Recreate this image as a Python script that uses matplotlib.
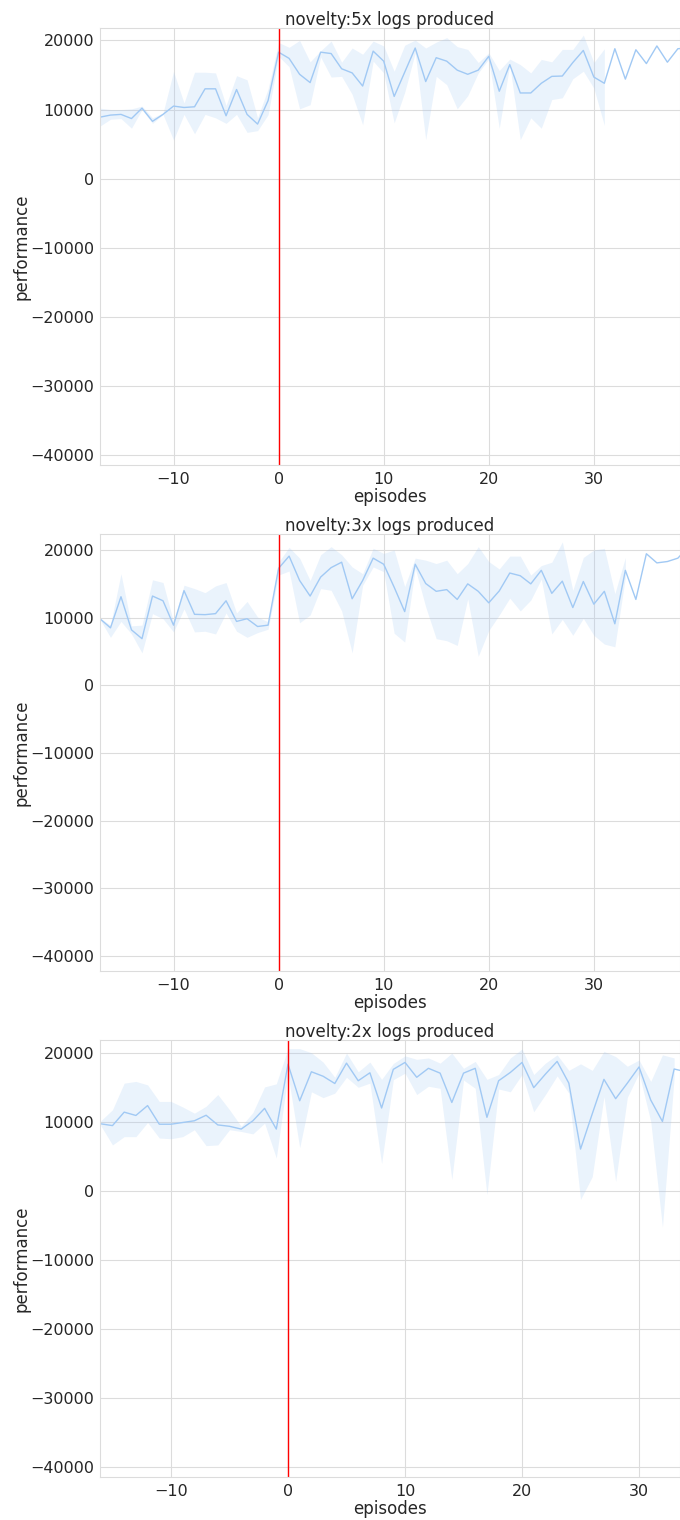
import numpy as np
import matplotlib
matplotlib.use("Agg")
import matplotlib.pyplot as plt
import seaborn as sns


# ----------------- data -----------------
# novelty 5x : episodes -17 .. 39, band only up to episode 31
ep5 = np.arange(-17, 40)
mean5 = [8900, 9200, 9300, 8700, 10200, 8300, 9300, 10500, 10300, 10400, 13000, 13000,
         9100, 12900, 9300, 7900, 11300,
         18300, 17400, 15100, 13900, 18300, 18100, 15900, 15300, 13400, 18450, 17000,
         11900, 15400, 18900, 14050, 17500, 17000, 15700, 15100, 15700, 17700,
         12650, 16500, 12400, 12400, 13800, 14800, 14850, 16800, 18550, 14700, 13800,
         18800, 14400, 18650, 16650, 19200, 16850, 18800, 18900]
upper5 = [10200, 10000, 10000, 10100, 10500, 8800, 9500, 15500, 10950, 15400, 15400, 15300,
          10600, 14900, 14300, 8800, 13000,
          19700, 19000, 20000, 16900, 18500, 19900, 16850, 18900, 18000, 19900, 19200,
          15550, 19300, 20050, 18900, 19750, 20400, 19100, 18700, 16800, 18200,
          15650, 17300, 16500, 15300, 17250, 16900, 18700, 18700, 20770, 16800, 18800]
lower5 = [7600, 8600, 8700, 7300, 10000, 8000, 9300, 5600, 9300, 6500, 9300, 8800,
          8000, 9300, 6700, 6950, 9260,
          17700, 16200, 10100, 10700, 17600, 14700, 14800, 12200, 7800, 17000, 15300,
          8070, 12500, 18200, 5650, 14800, 13600, 10100, 12000, 15300, 17300,
          7300, 16500, 5650, 8800, 7300, 11450, 11700, 14450, 15550, 13100, 7700]

# novelty 3x : episodes -17 .. 39, band only up to episode 33
ep3 = np.arange(-17, 40)
mean3 = [9850, 8500, 13100, 8200, 6900, 13200, 12500, 8900, 14000, 10500, 10450, 10600,
         12500, 9450, 9850, 8700, 8900,
         17300, 19100, 15500, 13200, 16000, 17400, 18200, 12800, 15500, 18800, 17900, 14500, 10900,
         17900, 15050, 13900, 14150, 12700, 15000, 13900, 12200, 13960, 16600, 16200, 15000,
         17000, 13600, 15400,
         11500, 15350, 12000, 13900, 9100, 17000, 12700, 19450, 18100, 18300, 18800, 20500]
upper3 = [9950, 8900, 16500, 8800, 8900, 15600, 15200, 9400, 14800, 14300, 13700, 14700,
          15200, 10700, 12400, 10100, 9400,
          18200, 20400, 18800, 15500, 19300, 20500, 19300, 17500, 16500, 20250, 19500, 20000, 14600,
          18800, 18500, 18000, 18500, 16500, 18000, 20500, 18300, 17200, 19100, 19100, 16300,
          17700, 18200, 21200,
          14050, 18900, 20000, 20250, 13550, 18900]
lower3 = [9750, 7100, 9450, 7600, 4800, 10600, 9850, 7900, 11300, 7900, 8000, 7600,
          10700, 8000, 7100, 7800, 8300,
          16300, 16900, 9250, 10400, 14300, 14050, 11000, 4800, 14800, 17500, 16800, 7700, 6400,
          17300, 11600, 6900, 6600, 5900, 12800, 4300, 8100, 10400, 12900, 11000, 12600,
          15700, 7600, 9750,
          7400, 9900, 7400, 6100, 5700, 16000]

# novelty 2x : episodes -16 .. 34, band only up to episode 33
ep2 = np.arange(-16, 35)
mean2 = [9760, 9500, 11450, 10970, 12400, 9700, 9700, 9950, 10200, 11000, 9600, 9400,
         9000, 10200, 12000, 9000,
         18400, 13100, 17300, 16650, 15600, 18550, 16000, 17150, 12050, 17650, 18650,
         16500, 17800, 17100, 12850, 17100, 17800, 10700, 16000, 17200, 18650, 15000,
         16960, 18800, 15650, 6100, 11200, 16200, 13400, 15650, 18000, 13200, 10100, 17700, 17300]
upper2 = [10200, 11800, 15650, 15900, 15400, 13000, 13000, 12200, 11300, 12300, 14000, 11800,
          9400, 11400, 15100, 15550,
          20650, 20650, 20050, 18700, 16500, 20000, 17300, 18700, 16200, 18500, 19600,
          19100, 19300, 18550, 20000, 17800, 18800, 16200, 16900, 19300, 20600, 16900,
          18550, 19750, 17500, 18450, 17500, 20250, 19500, 18100, 19000, 15900, 19750, 19300]
lower2 = [9500, 6700, 7900, 7900, 9950, 7700, 7600, 7900, 8900, 6600, 6700, 8900,
          8650, 8300, 9850, 4800,
          16900, 6300, 14400, 13550, 14200, 16500, 15050, 15650, 4000, 16150, 17100,
          14000, 15200, 14900, 1700, 16100, 14900, -500, 14800, 14400, 16900, 11500,
          14000, 16700, 14200, -1200, 2100, 13700, 1400, 13600, 17100, 10100, -5200, 16500]

titles = ['novelty:5x logs produced', 'novelty:3x logs produced', 'novelty:2x logs produced']
xlims = [(-17, 38.2), (-17, 38.2), (-16.07, 33.5)]
ylims = [(-41400, 21800), (-42200, 22370), (-41400, 21900)]
# ----------------------------------------------------------------

sns.set_style('whitegrid')
plt.rcParams['font.family'] = ['DejaVu Sans']
plt.rcParams['xtick.labelsize'] = 11.5
plt.rcParams['ytick.labelsize'] = 11.5
plt.rcParams['axes.labelsize'] = 12
plt.rcParams['axes.titlesize'] = 12
plt.rcParams['grid.color'] = '#dcdcdc'
plt.rcParams['axes.edgecolor'] = '#dcdcdc'

warna = '#a1c9f4'

fig, axs = plt.subplots(3, 1, figsize=(6.8, 15.2), dpi=100)
fig.subplots_adjust(left=0.147, right=1.0, top=0.9816, bottom=0.0283, hspace=0.158)

panels = [(ep5, mean5, lower5, upper5), (ep3, mean3, lower3, upper3), (ep2, mean2, lower2, upper2)]

for ax, (ep, m, lo, hi), judul, xl, yl in zip(axs, panels, titles, xlims, ylims):
    n_band = len(hi)
    ax.fill_between(ep[:n_band], lo, hi, color=warna, alpha=0.22, linewidth=0)
    ax.plot(ep, m, color=warna, linewidth=1)
    ax.axvline(0, color='red', linewidth=1)
    ax.set_xlim(*xl)
    ax.set_ylim(*yl)
    ax.tick_params(axis='y', length=0, pad=4)
    ax.tick_params(axis='x', length=0, pad=5)
    ax.set_title(judul, pad=2)
    ax.set_xlabel('episodes', labelpad=1)
    ax.set_ylabel('performance', labelpad=0)

fig.savefig('out.png', dpi=100)
